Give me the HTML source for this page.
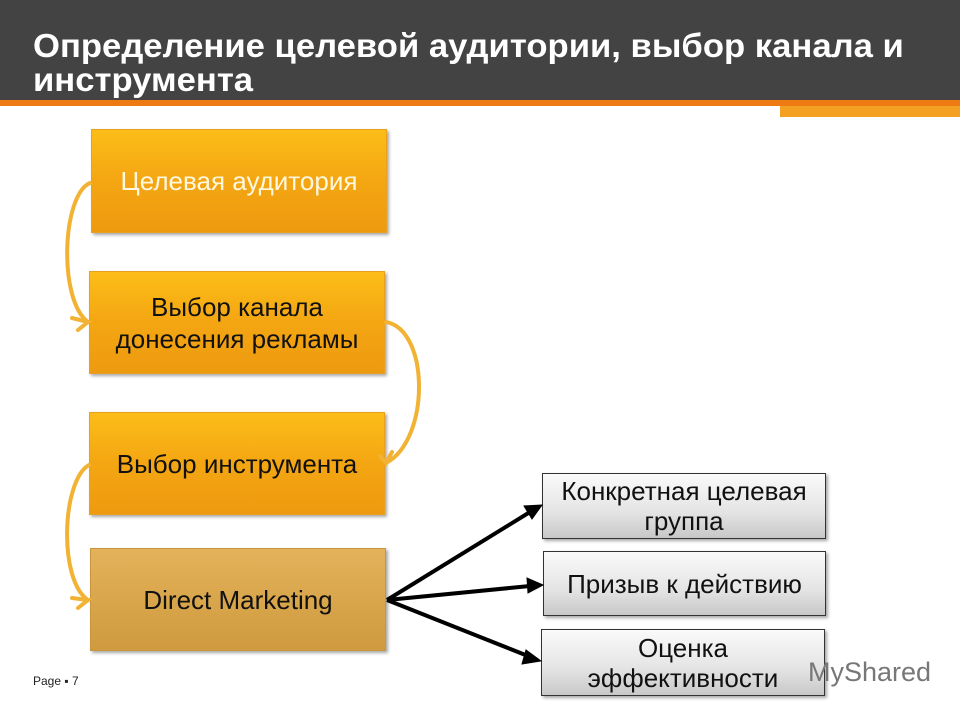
<!DOCTYPE html>
<html><head><meta charset="utf-8"><style>
body{margin:0;width:960px;height:720px;position:relative;background:#fff;font-family:"Liberation Sans",sans-serif;overflow:hidden}
.hdr{position:absolute;left:0;top:0;width:960px;height:100px;background:#434343}
.ttl{position:absolute;left:33px;top:29px;color:#fff;font-weight:bold;font-size:33px;line-height:34px;transform-origin:0 0;transform:scaleX(1.05);white-space:nowrap}
.ol{position:absolute;left:0;top:100px;width:960px;height:6px;background:#ee7a12}
.ob{position:absolute;left:780px;top:106px;width:180px;height:11px;background:#f4a020}
.b{position:absolute;box-sizing:border-box;display:flex;align-items:center;justify-content:center;text-align:center;font-size:26px;line-height:32px;color:#111;box-shadow:2px 2px 3px rgba(0,0,0,.35);white-space:nowrap}
.o{background:linear-gradient(#fcbd18,#f4a612 50%,#ee9a10);border:1px solid #e8a020}
.t{background:linear-gradient(#e4b25a,#d9a64c 50%,#cf9a40);border:1px solid #c99640}
.g{background:linear-gradient(#fafafa,#e4e4e4 60%,#c8c8c8);border:1px solid #333;line-height:30px}
</style></head><body>
<div class="hdr"></div>
<div class="ttl">Определение целевой аудитории, выбор канала и<br>инструмента</div>
<div class="ol"></div><div class="ob"></div>
<div class="b o" style="left:91px;top:129px;width:296px;height:104px;color:#fff8e0">Целевая аудитория</div>
<div class="b o" style="left:89px;top:271px;width:296px;height:103px">Выбор канала<br>донесения рекламы</div>
<div class="b o" style="left:89px;top:412px;width:296px;height:103px">Выбор инструмента</div>
<div class="b t" style="left:90px;top:548px;width:296px;height:103px">Direct Marketing</div>
<div class="b g" style="left:542px;top:473px;width:284px;height:66px">Конкретная целевая<br>группа</div>
<div class="b g" style="left:543px;top:551px;width:283px;height:65px">Призыв к действию</div>
<div class="b g" style="left:541px;top:629px;width:284px;height:67px">Оценка<br>эффективности</div>
<svg style="position:absolute;left:0;top:0" width="960" height="720">
<g fill="none" stroke="#f2b233" stroke-width="4" stroke-linecap="round">
<path d="M90,183 C62,195 58,300 88,322"/>
<path d="M72,318 L88,322 L78,330"/>
<path d="M386,322 C430,330 430,440 386,463"/>
<path d="M380,456 L386,463 L392,452"/>
<path d="M89,465 C62,480 58,580 88,600"/>
<path d="M72,598 L88,600 L78,608"/>
</g>
<g stroke="#000" stroke-width="4" fill="#000">
<line x1="387" y1="600" x2="530" y2="512"/>
<line x1="387" y1="600" x2="530" y2="586"/>
<line x1="387" y1="600" x2="528" y2="656"/>
<polygon points="542,505 524,506 532,519" stroke-width="1"/>
<polygon points="543,585 527,578 528,593" stroke-width="1"/>
<polygon points="541,661 526,650 522,664" stroke-width="1"/>
</g>
</svg>
<div style="position:absolute;left:33px;top:674px;font-size:12px;color:#222">Page ▪ 7</div>
<div style="position:absolute;left:808px;top:657px;font-size:27px;color:#777">MyShared</div>
</body></html>
